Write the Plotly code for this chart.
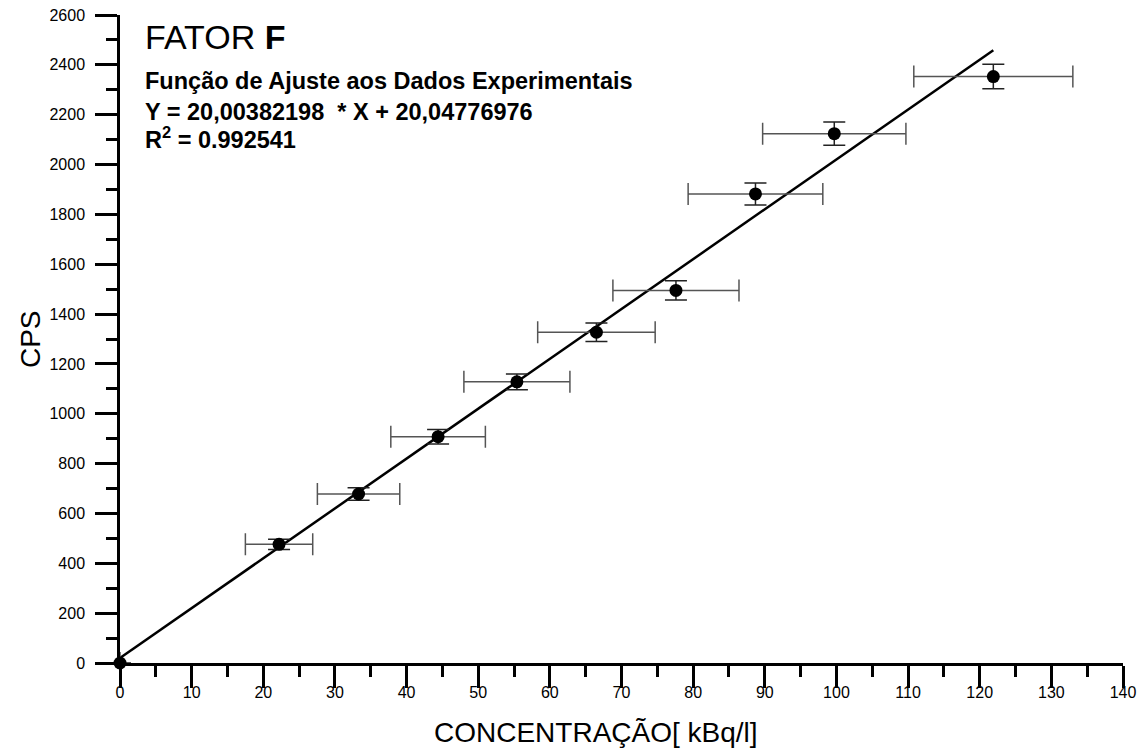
import plotly.graph_objects as go

# Data
conc = [0, 22.2, 33.3, 44.4, 55.4, 66.5, 77.6, 88.7, 99.7, 121.9]
cps = [0, 476, 678, 908, 1128, 1327, 1495, 1882, 2124, 2353]
conc_err = [0, 4.7, 5.75, 6.6, 7.4, 8.2, 8.8, 9.4, 10.0, 11.1]
cps_err = [0, 21, 25, 29, 32, 37, 39, 44, 47, 49]

slope = 20.00382198
intercept = 20.04776976
r2 = 0.992541

x_ticks = list(range(0, 141, 10))
y_ticks = list(range(0, 2601, 200))

fit_x = [0, max(conc)]
fit_y = [slope * v + intercept for v in fit_x]

FONT = "Liberation Sans, Arial, sans-serif"

fig = go.Figure()
fig.add_trace(go.Scatter(
    x=fit_x, y=fit_y, mode="lines",
    line=dict(color="black", width=2.5),
    showlegend=False, cliponaxis=False, hoverinfo="skip",
))
fig.add_trace(go.Scatter(
    x=conc, y=cps, mode="markers",
    marker=dict(color="black", size=13, symbol="circle"),
    error_x=dict(type="data", array=conc_err, visible=True,
                 color="#555555", thickness=1.5, width=11),
    error_y=dict(type="data", array=cps_err, visible=True,
                 color="#222222", thickness=1.5, width=11),
    showlegend=False, cliponaxis=False,
))

axis_common = dict(
    showline=True, linecolor="black", linewidth=2.5,
    showgrid=False, zeroline=False,
    ticks="outside", tickwidth=2.5, tickcolor="black", ticklen=22,
    tickfont=dict(family=FONT, size=16, color="black"),
    ticklabeloverflow="allow",
)

fig.update_xaxes(
    range=[0, 140], tickmode="array", tickvals=x_ticks,
    ticktext=[str(v) for v in x_ticks],
    minor=dict(dtick=5, ticks="outside", ticklen=11, tickwidth=2.5, tickcolor="black"),
    ticklabelstandoff=-9,
    **axis_common,
)
fig.update_yaxes(
    range=[0, 2600], tickmode="array", tickvals=y_ticks,
    ticktext=[str(v) for v in y_ticks],
    minor=dict(dtick=100, ticks="outside", ticklen=11, tickwidth=2.5, tickcolor="black"),
    ticklabelstandoff=7,
    **axis_common,
)

annotations = [
    dict(x=0.4746, y=-0.1065, xref="paper", yref="paper",
         text="CONCENTRAÇÃO[ kBq/l]", showarrow=False,
         font=dict(family=FONT, size=28, color="black"), xanchor="center", yanchor="middle"),
    dict(x=-0.0897, y=0.5, xref="paper", yref="paper", text="CPS", textangle=-90,
         showarrow=False, font=dict(family=FONT, size=28, color="black"),
         xanchor="center", yanchor="middle"),
    dict(x=3.2, y=2510, xref="x", yref="y", text="FATOR <b>F</b>", showarrow=False,
         font=dict(family=FONT, size=34, color="black"), xanchor="left", yanchor="middle"),
    dict(x=3.2, y=2336, xref="x", yref="y", text="<b>Função de Ajuste aos Dados Experimentais</b>",
         showarrow=False, font=dict(family=FONT, size=23.5, color="black"),
         xanchor="left", yanchor="middle"),
    dict(x=3.2, y=2210, xref="x", yref="y",
         text=f"<b>Y = {slope:.8f}  * X + {intercept:.8f}</b>".replace(".", ","),
         showarrow=False, font=dict(family=FONT, size=23.5, color="black"),
         xanchor="left", yanchor="middle"),
    dict(x=3.2, y=2105, xref="x", yref="y",
         text=f"<b>R<sup>2</sup> = {r2}</b>",
         showarrow=False, font=dict(family=FONT, size=23.5, color="black"),
         xanchor="left", yanchor="middle"),
]

# The page body adds an 8px offset, so the figure is 8px smaller and margins shifted.
fig.update_layout(
    width=1138, height=741,
    margin=dict(l=112, r=23, t=7, b=86, autoexpand=False),
    paper_bgcolor="white", plot_bgcolor="white",
    font=dict(family=FONT, color="black"),
    annotations=annotations,
    showlegend=False,
)

fig.write_html("out.html")
